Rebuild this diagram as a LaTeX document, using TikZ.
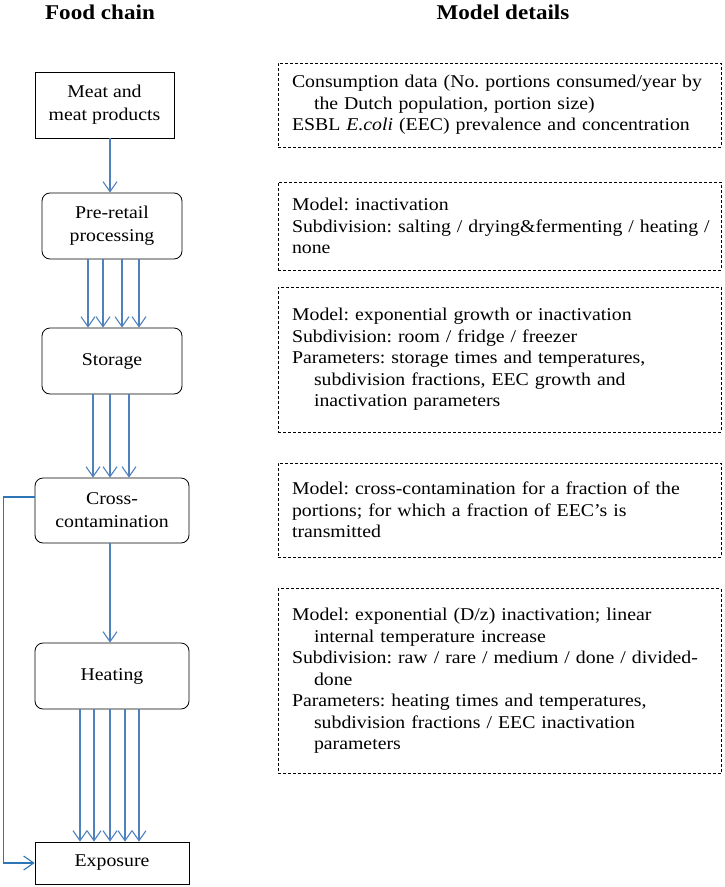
\documentclass[tikz,border=0pt]{standalone}
\usepackage{fontspec}
\setmainfont[FakeStretch=1.1]{Liberation Serif}
\usetikzlibrary{arrows.meta, positioning}
\definecolor{flowblue}{RGB}{79,129,189}
\definecolor{loopblue}{RGB}{46,117,182}
\newcommand{\hind}{\hspace*{22pt}}
\frenchspacing

\begin{document}
\begin{tikzpicture}[x=1pt, y=1pt,
        font=\fontsize{18}{21.5}\selectfont,
        chainbox/.style={draw, line width=0.8pt, align=center, font=\fontsize{18}{23}\selectfont},
        roundbox/.style={chainbox, rounded corners=8pt},
        detbox/.style={draw, dashed, dash pattern=on 3pt off 2pt, line width=0.7pt, align=left,
            text width=429pt, inner xsep=7pt, minimum width=443pt,
            execute at begin node={\leftskip=7pt\relax}},
        flow/.style={draw=flowblue, line width=1.1pt, -{Straight Barb[length=10pt, width=14pt]}}]
        \useasboundingbox (0,0) rectangle (724,-887);

        % column titles
        \node[font=\fontsize{21}{24}\selectfont\bfseries] (fc) at (100,-12) {Food chain};
        \node[font=\fontsize{21}{24}\selectfont\bfseries] (md) at (503,-12) {Model details};

        % food chain
        \node[chainbox, minimum width=139pt, minimum height=66pt] (meat) at (104.5,-105) {Meat and\\meat products};
        \node[roundbox, minimum width=140pt, minimum height=66pt] (pre) at (112,-226) {Pre-retail\\processing};
        \node[roundbox, minimum width=140pt, minimum height=66pt] (stor) at (112,-361) {Storage};
        \node[roundbox, minimum width=154pt, minimum height=65pt] (cross) at (112,-510.5) {Cross-\\contamination};
        \node[roundbox, minimum width=154pt, minimum height=66pt] (heat) at (112,-676) {Heating};
        \node[chainbox, minimum width=154pt, minimum height=42pt] (expo) at (112,-863) {Exposure};

        \draw[flow] ([xshift=5.5pt]meat.south) -- ([xshift=-2pt]pre.north);
        \foreach \dx in {-24,-9,10,27}
            \draw[flow] ([xshift=\dx pt]pre.south) -- ([xshift=\dx pt]stor.north);
        \foreach \dx in {-19,-2,17}
            \draw[flow] ([xshift=\dx pt]stor.south) -- ([xshift=\dx pt]cross.north);
        \draw[flow] ([xshift=-2pt]cross.south) -- ([xshift=-2pt]heat.north);
        \foreach \dx in {-32,-18,-2,13,27}
            \draw[flow] ([xshift=\dx pt]heat.south) -- ([xshift=\dx pt]expo.north);
        \draw[flow, draw=loopblue] ([yshift=13.5pt]cross.west) -- ++(-31,0) |- (expo.west);

        % model details
        \node[detbox, minimum height=84pt] (det1) at (499.5,-105) {Consumption data (No. portions consumed/year by\\
            \hind the Dutch population, portion size)\\
            ESBL \textit{E.coli} (EEC) prevalence and concentration};
        \node[detbox, minimum height=88pt] (det2) at (499.5,-226) {Model: inactivation\\
            Subdivision: salting / drying\&fermenting / heating /\\
            none};
        \node[detbox, minimum height=145pt] (det3) at (499.5,-359.5) {Model: exponential growth or inactivation\\
            Subdivision: room / fridge / freezer\\
            Parameters: storage times and temperatures,\\
            \hind subdivision fractions, EEC growth and\\
            \hind inactivation parameters};
        \node[detbox, minimum height=94pt] (det4) at (499.5,-510) {Model: cross-contamination for a fraction of the\\
            portions; for which a fraction of EEC's is\\
            transmitted};
        \node[detbox, minimum height=185pt] (det5) at (499.5,-681) {Model: exponential (D/z) inactivation; linear\\
            \hind internal temperature increase\\
            Subdivision: raw / rare / medium / done / divided-\\
            \hind done\\
            Parameters: heating times and temperatures,\\
            \hind subdivision fractions / EEC inactivation\\
            \hind parameters};
\end{tikzpicture}
\end{document}
